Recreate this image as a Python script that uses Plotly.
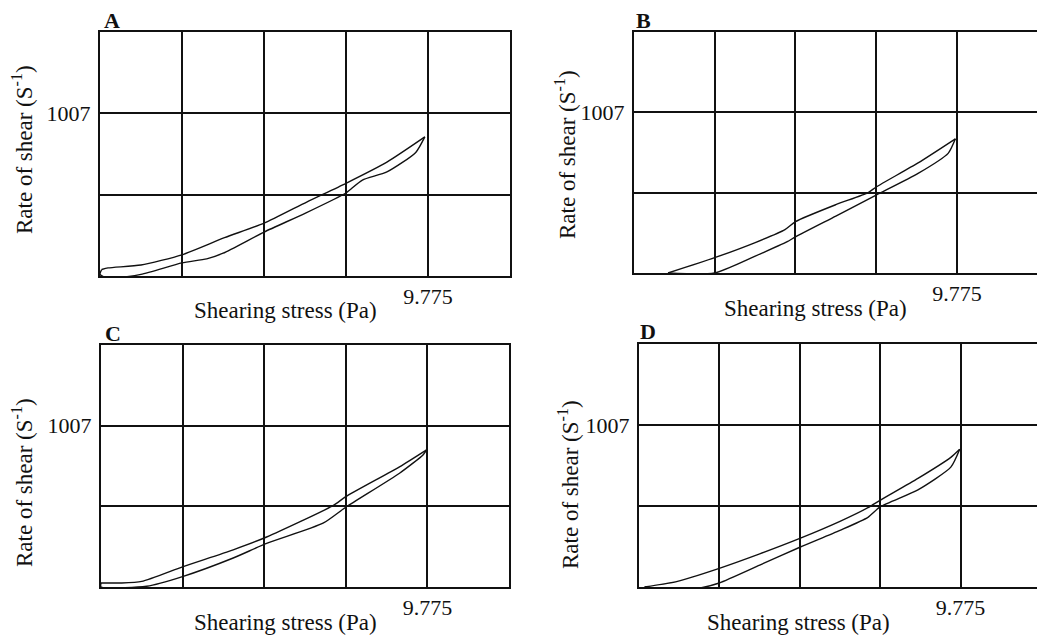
import plotly.graph_objects as go

# ---- data (Shearing stress in Pa, Rate of shear in s^-1) ----
panels = ["A", "B", "C", "D"]

A_up_x = [0.05, 0.24, 1.22, 2.44, 3.71, 4.89, 6.16, 7.33, 8.55, 9.68]
A_up_y = [40, 50, 68, 131, 237, 327, 458, 574, 705, 861]
A_dn_x = [9.68, 9.41, 8.55, 7.82, 7.45, 7.33, 6.11, 4.89, 3.67, 3.18, 2.44, 1.22, 0.24, 0.0, 0.05]
A_dn_y = [861, 765, 644, 594, 534, 514, 388, 272, 141, 106, 81, 10, -15, 10, 40]

B_up_x = [1.03, 2.44, 3.67, 4.57, 4.89, 6.11, 7.09, 7.33, 8.60, 9.73]
B_up_y = [0, 96, 191, 272, 322, 428, 504, 539, 690, 841]
B_dn_x = [9.73, 9.51, 8.60, 7.33, 6.11, 4.89, 4.64, 3.67, 2.44, 1.03]
B_dn_y = [841, 750, 624, 488, 357, 227, 196, 106, 0, 0]

C_up_x = [0.0, 0.61, 1.22, 2.44, 3.96, 4.96, 6.96, 7.33, 8.94, 9.75]
C_up_y = [25, 25, 35, 126, 232, 312, 509, 564, 750, 856]
C_dn_x = [9.75, 9.65, 8.94, 7.33, 6.65, 4.96, 3.96, 2.44, 1.37, 0.0, 0.0]
C_dn_y = [856, 826, 710, 498, 398, 272, 181, 65, 5, 0, 25]

D_up_x = [0.17, 1.17, 2.44, 3.67, 4.89, 6.11, 6.96, 7.33, 8.48, 9.48, 9.75]
D_up_y = [0, 35, 116, 206, 302, 408, 493, 539, 675, 806, 856]
D_dn_x = [9.75, 9.48, 8.48, 7.33, 6.96, 6.11, 4.89, 3.67, 2.44, 1.88, 0.78, 0.17]
D_dn_y = [856, 745, 604, 498, 433, 352, 247, 136, 25, -5, -25, 0]

x_grid = [0, 2.44375, 4.8875, 7.33125, 9.775, 12.21875]
x_tick = [9.775]
x_ticktext = ["9.775"]
y_grid = [0, 503.5, 1007, 1510.5]
y_tick = [1007]
y_ticktext = ["1007"]

x_title = "Shearing stress (Pa)"
y_title = "Rate of shear (S<sup>-1</sup>)"

series = {
    "A": (A_up_x, A_up_y, A_dn_x, A_dn_y),
    "B": (B_up_x, B_up_y, B_dn_x, B_dn_y),
    "C": (C_up_x, C_up_y, C_dn_x, C_dn_y),
    "D": (D_up_x, D_up_y, D_dn_x, D_dn_y),
}

# ---- layout geometry ----
W, H = 1037, 639
FONT = "Liberation Serif"
INK = "#111111"
# (left px, right px, top px, bottom px, x range max, mirror right)
geom = {
    "A": (100, 510, 32, 276, 12.21875, True),
    "B": (634, 1037, 32, 273, 12.2, False),
    "C": (101, 509, 345, 587, 12.21875, True),
    "D": (639, 1037, 344, 587, 12.1, False),
}
letter_pos = {"A": (112, 20), "B": (643, 20), "C": (113, 333), "D": (648, 332)}
xtitle_pos = {"A": (285, 310), "B": (815, 308), "C": (285, 622), "D": (798, 622)}
ytitle_pos = {"A": (22, 150), "B": (566, 155), "C": (22, 483), "D": (568, 485)}

fig = go.Figure()
layout = dict(
    width=W, height=H, margin=dict(l=0, r=0, t=0, b=0),
    paper_bgcolor="white", plot_bgcolor="white", showlegend=False,
    font=dict(family=FONT, color=INK, size=22),
)
annotations = []

for i, p in enumerate(panels):
    n = "" if i == 0 else str(i + 1)
    L, R, T, B, xmax, mir = geom[p]
    ux, uy, dx, dy = series[p]
    for xs, ys in ((ux, uy), (dx, dy)):
        fig.add_trace(go.Scatter(
            x=xs, y=ys, mode="lines", xaxis="x" + n, yaxis="y" + n,
            line=dict(color=INK, width=1.4, shape="spline", smoothing=0.6),
            hoverinfo="skip"))
    layout["xaxis" + n] = dict(
        domain=[L / W, R / W], range=[0, xmax], anchor="y" + n,
        tickmode="array", tickvals=x_tick, ticktext=x_ticktext,
        showgrid=True, gridcolor=INK, gridwidth=1.5,
        minor=dict(tickmode="array", tickvals=x_grid, showgrid=True,
                   gridcolor=INK, gridwidth=1.5, ticks=""),
        showline=True, linecolor=INK, linewidth=2, mirror=True,
        ticks="", ticklabelstandoff=0, zeroline=False, fixedrange=True,
        tickfont=dict(family=FONT, size=22, color=INK),
    )
    layout["yaxis" + n] = dict(
        domain=[1 - B / H, 1 - T / H], range=[0, 1510.5], anchor="x" + n,
        tickmode="array", tickvals=y_tick, ticktext=y_ticktext,
        showgrid=True, gridcolor=INK, gridwidth=1.5,
        minor=dict(tickmode="array", tickvals=y_grid, showgrid=True,
                   gridcolor=INK, gridwidth=1.5, ticks=""),
        showline=True, linecolor=INK, linewidth=2, mirror=mir,
        ticks="", ticklabelstandoff=3, zeroline=False, fixedrange=True,
        tickfont=dict(family=FONT, size=22, color=INK),
    )
    common = dict(xref="paper", yref="paper", showarrow=False,
                  xanchor="center", yanchor="middle")
    lx, ly = letter_pos[p]
    annotations.append(dict(text="<b>" + p + "</b>", x=lx / W, y=1 - ly / H,
                            font=dict(family=FONT, size=22, color=INK), **common))
    tx, ty = xtitle_pos[p]
    annotations.append(dict(text=x_title, x=tx / W, y=1 - ty / H,
                            font=dict(family=FONT, size=23, color=INK), **common))
    yx, yy = ytitle_pos[p]
    annotations.append(dict(text=y_title, x=yx / W, y=1 - yy / H, textangle=-90,
                            font=dict(family=FONT, size=23, color=INK), **common))

layout["annotations"] = annotations
fig.update_layout(**layout)
fig.write_html("out.html", config={"displayModeBar": False},
               post_script="document.body.style.margin='0px';")
